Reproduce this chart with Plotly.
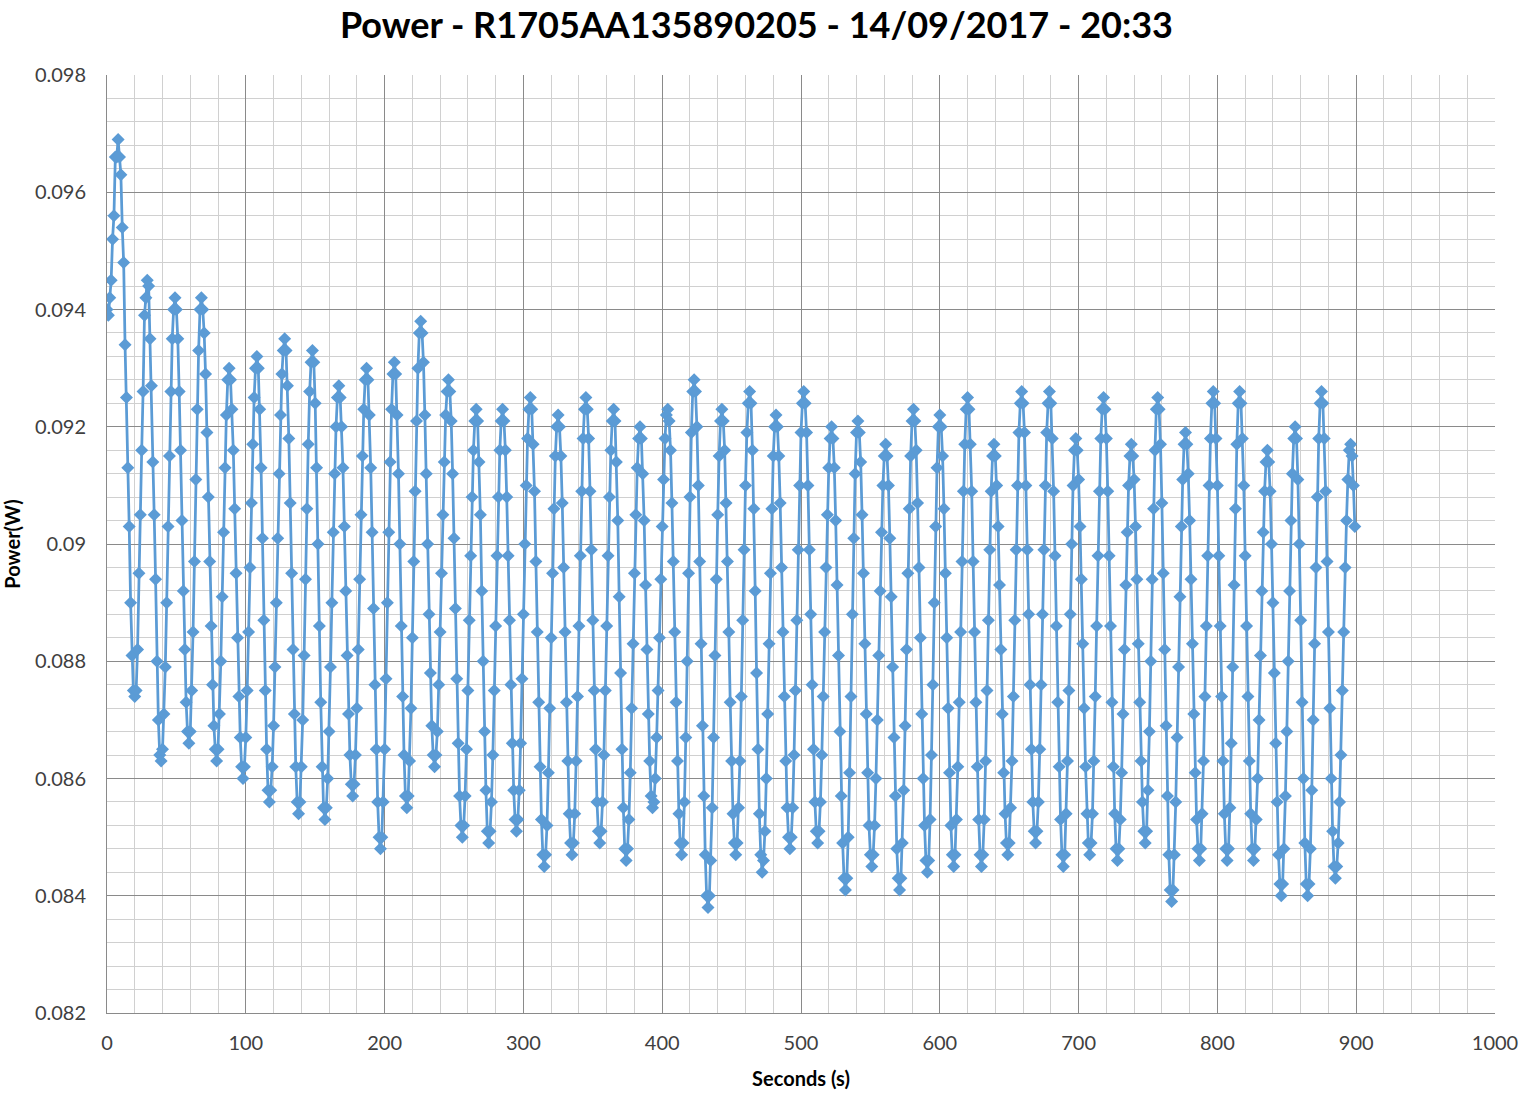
import plotly.graph_objects as go

# Power readings in mW, 1 sample per second
power_mw_000 = [94.0, 93.9, 94.2, 94.5, 95.2, 95.6, 96.6, 96.6, 96.9,
    96.6, 96.3, 95.4, 94.8, 93.4, 92.5, 91.3, 90.3, 89.0, 88.1, 87.5, 87.4,
    87.5, 88.2, 89.5, 90.5, 91.6, 92.6, 93.9, 94.2, 94.5,
    94.4, 93.5, 92.7, 91.4, 90.5, 89.4, 88.0, 87.0, 86.4, 86.3,
    86.5, 87.1, 87.9, 89.0, 90.3, 91.5, 92.6, 93.5, 94.0, 94.2,
    94.0, 93.5, 92.6, 91.6, 90.4, 89.2, 88.2, 87.3, 86.8, 86.6,
    86.8, 87.5, 88.5, 89.7, 91.1, 92.3, 93.3, 94.0, 94.2,
    94.0, 93.6, 92.9, 91.9, 90.8, 89.7, 88.6, 87.6, 86.9, 86.5, 86.3,
    86.5, 87.1, 88.0, 89.1, 90.2, 91.3, 92.2, 92.8, 93.0,
    92.8, 92.3, 91.6, 90.6, 89.5, 88.4, 87.4, 86.7, 86.2, 86.0,
    86.2]
power_mw_100 = [86.7, 87.5, 88.5, 89.6, 90.7, 91.7, 92.5, 93.0, 93.2,
    93.0, 92.3, 91.3, 90.1, 88.7, 87.5, 86.5, 85.8, 85.6,
    85.8, 86.2, 86.9, 87.9, 89.0, 90.1, 91.2, 92.2, 92.9, 93.3, 93.5,
    93.3, 92.7, 91.8, 90.7, 89.5, 88.2, 87.1, 86.2, 85.6, 85.4,
    85.6, 86.2, 87.0, 88.1, 89.4, 90.6, 91.7, 92.6, 93.1, 93.3,
    93.1, 92.4, 91.3, 90.0, 88.6, 87.3, 86.2, 85.5, 85.3,
    85.5, 86.0, 86.8, 87.9, 89.0, 90.2, 91.2, 92.0, 92.5, 92.7,
    92.5, 92.0, 91.3, 90.3, 89.2, 88.1, 87.1, 86.4, 85.9, 85.7,
    85.9, 86.4, 87.2, 88.2, 89.4, 90.5, 91.5, 92.3, 92.8, 93.0,
    92.8, 92.2, 91.3, 90.2, 88.9, 87.6, 86.5, 85.6, 85.0, 84.8,
    85.0, 85.6]
power_mw_200 = [86.5, 87.7, 89.0, 90.2, 91.4, 92.3, 92.9, 93.1,
    92.9, 92.2, 91.2, 90.0, 88.6, 87.4, 86.4, 85.7, 85.5,
    85.7, 86.3, 87.2, 88.4, 89.7, 90.9, 92.1, 93.0, 93.6, 93.8,
    93.6, 93.1, 92.2, 91.2, 90.0, 88.8, 87.8, 86.9, 86.4, 86.2,
    86.4, 86.8, 87.6, 88.5, 89.5, 90.5, 91.4, 92.2, 92.6, 92.8,
    92.6, 92.1, 91.2, 90.1, 88.9, 87.7, 86.6, 85.7, 85.2, 85.0,
    85.2, 85.7, 86.5, 87.5, 88.7, 89.8, 90.8, 91.6, 92.1, 92.3,
    92.1, 91.4, 90.5, 89.2, 88.0, 86.8, 85.8, 85.1, 84.9,
    85.1, 85.6, 86.4, 87.5, 88.6, 89.8, 90.8, 91.6, 92.1, 92.3,
    92.1, 91.6, 90.8, 89.8, 88.7, 87.6, 86.6, 85.8, 85.3, 85.1,
    85.3, 85.8, 86.6, 87.7]
power_mw_300 = [88.8, 90.0, 91.0, 91.8, 92.3, 92.5,
    92.3, 91.7, 90.9, 89.7, 88.5, 87.3, 86.2, 85.3, 84.7, 84.5,
    84.7, 85.2, 86.1, 87.2, 88.4, 89.5, 90.6, 91.5, 92.0, 92.2,
    92.0, 91.5, 90.7, 89.6, 88.5, 87.3, 86.3, 85.4, 84.9, 84.7,
    84.9, 85.4, 86.3, 87.4, 88.6, 89.8, 90.9, 91.8, 92.3, 92.5,
    92.3, 91.8, 90.9, 89.9, 88.7, 87.5, 86.5, 85.6, 85.1, 84.9,
    85.1, 85.6, 86.4, 87.5, 88.6, 89.8, 90.8, 91.6, 92.1, 92.3,
    92.1, 91.4, 90.4, 89.1, 87.8, 86.5, 85.5, 84.8, 84.6,
    84.8, 85.3, 86.1, 87.2, 88.3, 89.5, 90.5, 91.3, 91.8, 92.0,
    91.8, 91.2, 90.4, 89.3, 88.2, 87.1, 86.3, 85.7, 85.5,
    85.6, 86.0, 86.7, 87.5, 88.4, 89.4]
power_mw_400 = [90.3, 91.1, 91.8, 92.2, 92.3,
    92.1, 91.6, 90.7, 89.7, 88.5, 87.3, 86.3, 85.4, 84.9, 84.7,
    84.9, 85.6, 86.7, 88.0, 89.5, 90.8, 91.9, 92.6, 92.8,
    92.6, 92.0, 91.0, 89.7, 88.3, 86.9, 85.7, 84.7, 84.0, 83.8,
    84.0, 84.6, 85.5, 86.7, 88.1, 89.4, 90.5, 91.5, 92.1, 92.3,
    92.1, 91.6, 90.7, 89.7, 88.5, 87.3, 86.3, 85.4, 84.9, 84.7,
    84.9, 85.5, 86.3, 87.4, 88.7, 89.9, 91.0, 91.9, 92.4, 92.6,
    92.4, 91.6, 90.6, 89.2, 87.8, 86.5, 85.4, 84.7, 84.4,
    84.6, 85.1, 86.0, 87.1, 88.3, 89.5, 90.6, 91.5, 92.0, 92.2,
    92.0, 91.5, 90.7, 89.6, 88.5, 87.4, 86.3, 85.5, 85.0, 84.8,
    85.0, 85.5, 86.4, 87.5, 88.7, 89.9, 91.0]
power_mw_500 = [91.9, 92.4, 92.6,
    92.4, 91.9, 91.0, 89.9, 88.8, 87.6, 86.5, 85.6, 85.1, 84.9,
    85.1, 85.6, 86.4, 87.4, 88.5, 89.6, 90.5, 91.3, 91.8, 92.0,
    91.8, 91.3, 90.4, 89.3, 88.1, 86.8, 85.7, 84.9, 84.3, 84.1,
    84.3, 85.0, 86.1, 87.4, 88.8, 90.1, 91.2, 91.9, 92.1,
    91.9, 91.4, 90.5, 89.5, 88.3, 87.1, 86.1, 85.2, 84.7, 84.5,
    84.7, 85.2, 86.0, 87.0, 88.1, 89.2, 90.2, 91.0, 91.5, 91.7,
    91.5, 91.0, 90.1, 89.1, 87.9, 86.7, 85.7, 84.8, 84.3, 84.1,
    84.3, 84.9, 85.8, 86.9, 88.2, 89.5, 90.6, 91.5, 92.1, 92.3,
    92.1, 91.6, 90.7, 89.6, 88.4, 87.1, 86.0, 85.2, 84.6, 84.4,
    84.6, 85.3, 86.4, 87.6, 89.0, 90.3, 91.3, 92.0]
power_mw_600 = [92.2,
    92.0, 91.5, 90.6, 89.5, 88.4, 87.2, 86.1, 85.2, 84.7, 84.5,
    84.7, 85.3, 86.2, 87.3, 88.5, 89.7, 90.9, 91.7, 92.3, 92.5,
    92.3, 91.7, 90.9, 89.7, 88.5, 87.3, 86.2, 85.3, 84.7, 84.5,
    84.7, 85.3, 86.3, 87.5, 88.7, 89.9, 90.9, 91.5, 91.7,
    91.5, 91.0, 90.3, 89.3, 88.2, 87.1, 86.1, 85.4, 84.9, 84.7,
    84.9, 85.5, 86.3, 87.4, 88.7, 89.9, 91.0, 91.9, 92.4, 92.6,
    92.4, 91.9, 91.0, 89.9, 88.8, 87.6, 86.5, 85.6, 85.1, 84.9,
    85.1, 85.6, 86.5, 87.6, 88.8, 89.9, 91.0, 91.9, 92.4, 92.6,
    92.4, 91.8, 90.9, 89.8, 88.6, 87.3, 86.2, 85.3, 84.7, 84.5,
    84.7, 85.4, 86.3, 87.5, 88.8, 90.0, 91.0, 91.6, 91.8,
    91.6]
power_mw_700 = [91.1, 90.3, 89.4, 88.3, 87.2, 86.2, 85.4, 84.9, 84.7,
    84.9, 85.4, 86.3, 87.4, 88.6, 89.8, 90.9, 91.8, 92.3, 92.5,
    92.3, 91.8, 90.9, 89.8, 88.6, 87.3, 86.2, 85.4, 84.8, 84.6,
    84.8, 85.3, 86.1, 87.1, 88.2, 89.3, 90.2, 91.0, 91.5, 91.7,
    91.5, 91.1, 90.3, 89.4, 88.3, 87.3, 86.3, 85.6, 85.1, 84.9,
    85.1, 85.8, 86.8, 88.0, 89.4, 90.6, 91.6, 92.3, 92.5,
    92.3, 91.7, 90.7, 89.5, 88.2, 86.9, 85.7, 84.7, 84.1, 83.9,
    84.1, 84.7, 85.6, 86.7, 87.9, 89.1, 90.3, 91.1, 91.7, 91.9,
    91.7, 91.2, 90.4, 89.4, 88.3, 87.1, 86.1, 85.3, 84.8, 84.6,
    84.8, 85.4, 86.3, 87.4, 88.6, 89.8, 91.0, 91.8, 92.4, 92.6,
    92.4, 91.8]
power_mw_800 = [91.0, 89.8, 88.6, 87.4, 86.3, 85.4, 84.8, 84.6,
    84.8, 85.5, 86.6, 87.9, 89.3, 90.6, 91.7, 92.4, 92.6,
    92.4, 91.8, 91.0, 89.8, 88.6, 87.4, 86.3, 85.4, 84.8, 84.6,
    84.8, 85.3, 86.0, 87.0, 88.1, 89.2, 90.2, 90.9, 91.4, 91.6,
    91.4, 90.9, 90.0, 89.0, 87.8, 86.6, 85.6, 84.7, 84.2, 84.0,
    84.2, 84.8, 85.7, 86.8, 88.0, 89.2, 90.4, 91.2, 91.8, 92.0,
    91.8, 91.1, 90.0, 88.7, 87.3, 86.0, 84.9, 84.2, 84.0,
    84.2, 84.8, 85.8, 87.0, 88.3, 89.6, 90.8, 91.8, 92.4, 92.6,
    92.4, 91.8, 90.9, 89.7, 88.5, 87.2, 86.0, 85.1, 84.5, 84.3,
    84.5, 84.9, 85.6, 86.4, 87.5, 88.5, 89.6, 90.4, 91.1, 91.6, 91.7,
    91.5, 91.0, 90.3]

x_tick_vals = [0, 100, 200, 300, 400, 500, 600, 700, 800, 900, 1000]
y_tick_vals = [0.082, 0.084, 0.086, 0.088, 0.090, 0.092, 0.094, 0.096, 0.098]
y_tick_text = ["0.082", "0.084", "0.086", "0.088", "0.09", "0.092", "0.094", "0.096", "0.098"]

segments = [power_mw_000, power_mw_100, power_mw_200, power_mw_300, power_mw_400,
            power_mw_500, power_mw_600, power_mw_700, power_mw_800]
power_w = [v / 1000.0 for seg in segments for v in seg]
seconds = list(range(len(power_w)))

FONT = "Lato, 'Open Sans', sans-serif"
MAJOR = "#8a8a8a"
MINOR = "#d0d0d0"

fig = go.Figure(go.Scatter(
    x=seconds, y=power_w, mode="lines+markers",
    line=dict(color="#5B9BD5", width=2.75),
    marker=dict(symbol="diamond", size=10, color="#5B9BD5"),
))

# plot area at x 107..1495, y 75..1013 in the 1522x1093 window
fig.update_layout(
    width=1522, height=1093,
    paper_bgcolor="white", plot_bgcolor="white",
    margin=dict(l=107, r=27, t=75, b=80, autoexpand=False),
    showlegend=False,
    title=dict(text="<b>Power - R1705AA135890205 - 14/09/2017 - 20:33</b>",
               x=0.497, xanchor="center", y=0.977, yanchor="middle",
               font=dict(family=FONT, size=36, color="black")),
    font=dict(family=FONT, color="#595959"),
)
fig.update_xaxes(
    range=[0, 1000], tickvals=x_tick_vals, automargin=False,
    showgrid=True, gridcolor=MAJOR, gridwidth=1,
    minor=dict(dtick=20, tick0=0, showgrid=True, gridcolor=MINOR, gridwidth=1),
    showline=True, linecolor=MAJOR, mirror=False,
    zeroline=False, ticks="", ticklabelstandoff=12, ticklabeloverflow="allow",
    tickfont=dict(size=20, color="#404040"),
    title=dict(text="<b>Seconds (s)</b>", font=dict(size=20, color="black"), standoff=18),
)
fig.update_yaxes(
    range=[0.082, 0.098], tickvals=y_tick_vals, ticktext=y_tick_text, automargin=False,
    showgrid=True, gridcolor=MAJOR, gridwidth=1,
    minor=dict(dtick=0.0004, tick0=0.082, showgrid=True, gridcolor=MINOR, gridwidth=1),
    showline=True, linecolor=MAJOR,
    zeroline=False, ticks="", ticklabelstandoff=16, ticklabeloverflow="allow",
    tickfont=dict(size=20, color="#404040"),
    title=dict(text="<b>Power(W)</b>", font=dict(size=20, color="black"), standoff=16),
)

# remove the default 8px page margin so the figure fills the window exactly
fig.write_html("out.html", config={"displayModeBar": False},
               post_script="document.body.style.margin='0';document.body.style.overflow='hidden';")
